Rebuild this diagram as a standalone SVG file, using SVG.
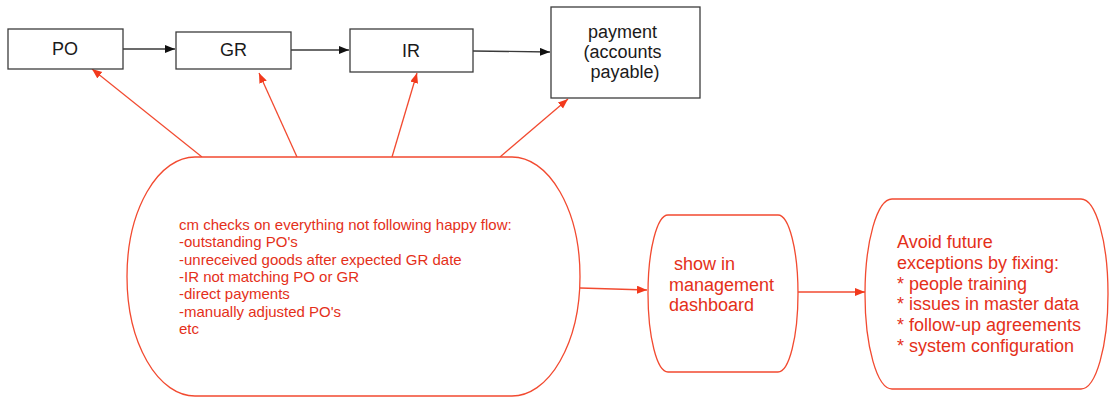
<svg xmlns="http://www.w3.org/2000/svg" width="1109" height="397" viewBox="0 0 1109 397">
  <style>
    .box { fill: #ffffff; stroke: #3c3c3c; stroke-width: 1.3; }
    .label { font-family: "Liberation Sans", Arial, Helvetica, sans-serif; font-size: 18px; fill: #1a1a1a; }
    .flow { fill: #ffffff; stroke: #f24a30; stroke-width: 1.3; }
    .note { font-family: "Liberation Sans", Arial, Helvetica, sans-serif; fill: #e4301a; }
    .link { stroke: #3a3a3a; stroke-width: 1.3; fill: none; }
    .check { stroke: #f24a30; stroke-width: 1.3; fill: none; }
  </style>
  <defs>
    <marker id="headBlack" markerUnits="userSpaceOnUse" markerWidth="11" markerHeight="9" refX="10" refY="4" orient="auto">
      <path d="M0,0 L10,4 L0,8 Z" fill="#111111"/>
    </marker>
    <marker id="headRed" markerUnits="userSpaceOnUse" markerWidth="11" markerHeight="9" refX="10" refY="4" orient="auto">
      <path d="M0,0 L10,4 L0,8 Z" fill="#f2391c"/>
    </marker>
  </defs>

  <rect width="1109" height="397" fill="#ffffff"/>

  <!-- connectors -->
  <g id="connectors">
    <line class="link" x1="123" y1="49" x2="175" y2="49" marker-end="url(#headBlack)"/>
    <line class="link" x1="291" y1="50" x2="349" y2="50" marker-end="url(#headBlack)"/>
    <line class="link" x1="473" y1="51" x2="550" y2="52" marker-end="url(#headBlack)"/>
    <line class="check" x1="202" y1="157" x2="92" y2="69" marker-end="url(#headRed)"/>
    <line class="check" x1="297" y1="157" x2="259" y2="73" marker-end="url(#headRed)"/>
    <line class="check" x1="392" y1="157" x2="417" y2="73" marker-end="url(#headRed)"/>
    <line class="check" x1="500" y1="157" x2="568" y2="99" marker-end="url(#headRed)"/>
    <line class="check" x1="580" y1="288" x2="647" y2="290" marker-end="url(#headRed)"/>
    <line class="check" x1="798" y1="292" x2="865" y2="292" marker-end="url(#headRed)"/>
  </g>

  <!-- process steps -->
  <g id="po">
    <rect class="box" x="8" y="29" width="115" height="40"/>
    <text class="label" x="65" y="55" text-anchor="middle">PO</text>
  </g>
  <g id="gr">
    <rect class="box" x="176" y="32" width="115" height="37"/>
    <text class="label" x="233.5" y="56" text-anchor="middle">GR</text>
  </g>
  <g id="ir">
    <rect class="box" x="350" y="29" width="123" height="43"/>
    <text class="label" x="411" y="57" text-anchor="middle">IR</text>
  </g>
  <g id="payment">
    <rect class="box" x="551" y="7" width="149" height="91"/>
    <text class="label" text-anchor="middle">
      <tspan x="625" y="38">payment</tspan>
      <tspan x="625" y="58">(accounts</tspan>
      <tspan x="625" y="78">payable)</tspan>
    </text>
  </g>

  <!-- checks on deviations -->
  <g id="checks">
    <path class="flow" d="M195,157 H512 A68,119.5 0 0 1 512,396 H195 A68,119.5 0 0 1 195,157 Z"/>
    <text class="note" font-size="15">
      <tspan x="179" y="230">cm checks on everything not following happy flow:</tspan>
      <tspan x="179" y="247.3">-outstanding PO's</tspan>
      <tspan x="179" y="264.6">-unreceived goods after expected GR date</tspan>
      <tspan x="179" y="281.9">-IR not matching PO or GR</tspan>
      <tspan x="179" y="299.2">-direct payments</tspan>
      <tspan x="179" y="316.5">-manually adjusted PO's</tspan>
      <tspan x="179" y="333.8">etc</tspan>
    </text>
  </g>

  <g id="dashboard">
    <path class="flow" d="M668,215 H778 A20,78.5 0 0 1 778,372 H668 A20,78.5 0 0 1 668,215 Z"/>
    <text class="note" font-size="18">
      <tspan x="674" y="270">show in</tspan>
      <tspan x="669" y="290.7">management</tspan>
      <tspan x="669" y="311">dashboard</tspan>
    </text>
  </g>

  <g id="prevention">
    <path class="flow" d="M892,199 H1081 A27,95 0 0 1 1081,389 H892 A27,95 0 0 1 892,199 Z"/>
    <text class="note" font-size="18">
      <tspan x="897" y="248">Avoid future</tspan>
      <tspan x="897" y="268.8">exceptions by fixing:</tspan>
      <tspan x="897" y="289.6">* people training</tspan>
      <tspan x="897" y="310.4">* issues in master data</tspan>
      <tspan x="897" y="331.2">* follow-up agreements</tspan>
      <tspan x="897" y="352">* system configuration</tspan>
    </text>
  </g>
</svg>
